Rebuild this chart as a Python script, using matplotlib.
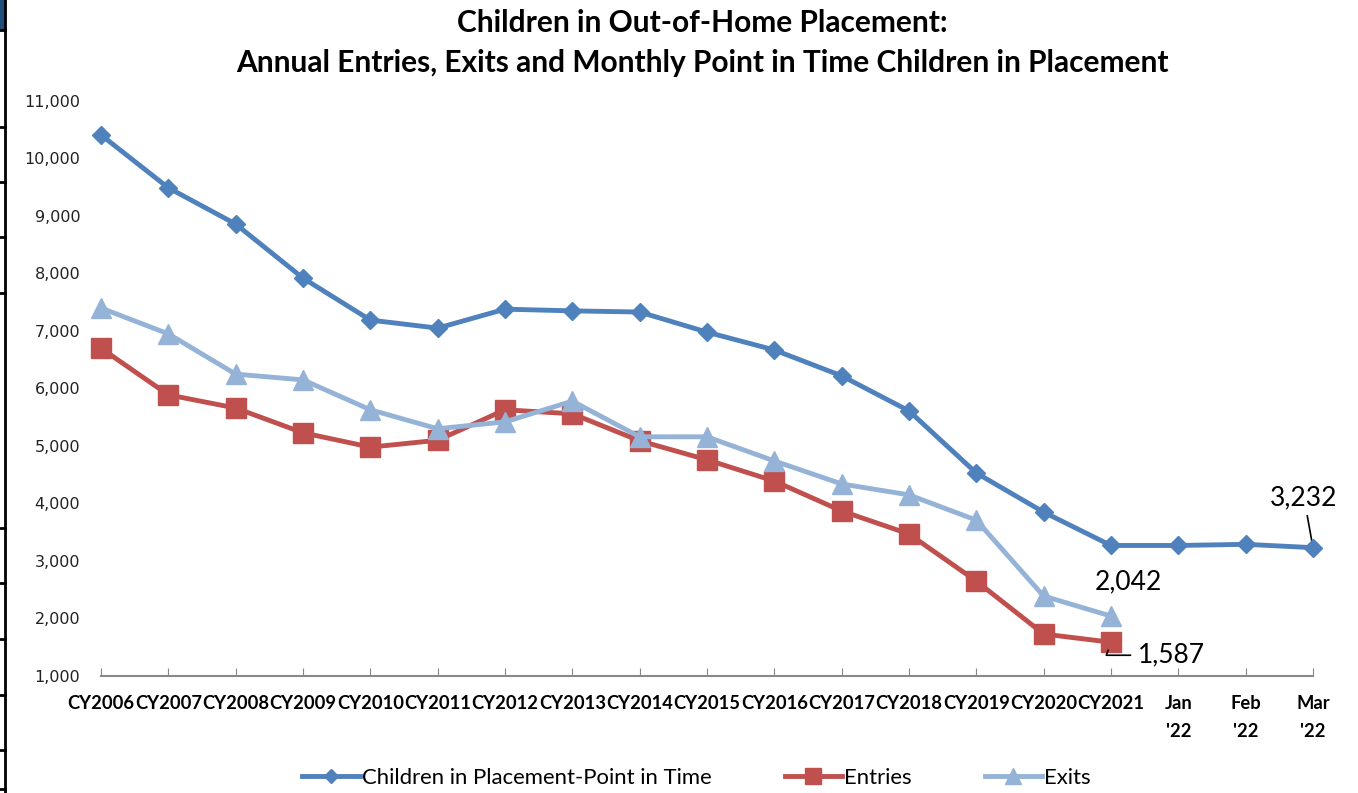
import matplotlib
matplotlib.use("Agg")
import matplotlib.pyplot as plt
from matplotlib.lines import Line2D
from matplotlib.patches import Rectangle

# categories and series
periods = ["CY2006", "CY2007", "CY2008", "CY2009", "CY2010", "CY2011", "CY2012",
           "CY2013", "CY2014", "CY2015", "CY2016", "CY2017", "CY2018", "CY2019",
           "CY2020", "CY2021", "Jan\n'22", "Feb\n'22", "Mar\n'22"]
in_placement = [10410, 9490, 8860, 7920, 7190, 7050, 7380, 7350, 7330, 6980,
                6670, 6220, 5610, 4530, 3850, 3270, 3270, 3290, 3232]
entries = [6700, 5890, 5660, 5230, 4980, 5100, 5630, 5560, 5090, 4760,
           4390, 3870, 3470, 2650, 1730, 1587]
exits = [7400, 6950, 6250, 6150, 5630, 5300, 5420, 5780, 5160, 5160,
         4740, 4340, 4150, 3710, 2390, 2042]
y_ticks = list(range(1000, 11001, 1000))

blue = "#4F81BD"
red = "#C0504D"
light = "#95B3D7"
bold_font = "Lato"

fig = plt.figure(figsize=(13.58, 7.93), dpi=100, facecolor="white")
ax = fig.add_axes([101 / 1358, 1 - 676 / 793, (1313 - 101) / 1358, (676 - 101) / 793])

x_all = list(range(len(periods)))
ax.plot(x_all, in_placement, color=blue, lw=3.5, marker="D", ms=9.5, clip_on=False,
        zorder=4, label="Children in Placement-Point in Time")
ax.plot(x_all[:len(entries)], entries, color=red, lw=3.5, marker="s", ms=14, clip_on=False,
        zorder=3, label="Entries")
ax.plot(x_all[:len(exits)], exits, color=light, lw=3.5, marker="^", ms=14.5, clip_on=False,
        zorder=5, label="Exits")

ax.set_xlim(0, len(periods) - 1)
ax.set_ylim(1000, 11000)
ax.set_yticks(y_ticks)
ax.set_yticklabels([f"{v:,}" for v in y_ticks], fontsize=11.5, color="#222222")
ax.set_xticks(x_all)
ax.set_xticklabels(periods, fontsize=13.2, fontweight="bold", family=bold_font,
                   linespacing=1.75, va="top")
ax.tick_params(axis="y", length=0, pad=15)
ax.tick_params(axis="x", direction="in", length=6, color="#888888", pad=14)
for s in ["top", "right", "left"]:
    ax.spines[s].set_visible(False)
ax.spines["bottom"].set_color("#888888")
ax.spines["bottom"].set_linewidth(1.5)

# data labels
label_font = dict(fontsize=19, family="Lato", color="black", ha="center", va="center")
ax.annotate(f"{in_placement[-1]:,}", xy=(x_all[-1], in_placement[-1]),
            xytext=(-9, 50), textcoords="offset pixels",
            arrowprops=dict(arrowstyle="-", color="black", lw=1.2, shrinkA=2, shrinkB=4),
            **label_font)
ax.annotate(f"{exits[-1]:,}", xy=(len(exits) - 1, exits[-1]),
            xytext=(17, 34), textcoords="offset pixels", **label_font)
ax.annotate(f"{entries[-1]:,}", xy=(len(entries) - 1, entries[-1]),
            xytext=(60, -13), textcoords="offset pixels",
            arrowprops=dict(arrowstyle="-", color="black", lw=1.2, shrinkA=3, shrinkB=6,
                            connectionstyle="angle,angleA=0,angleB=70,rad=0"),
            **label_font)

fig.text(0.517, 0.971, "Children in Out-of-Home Placement:", ha="center", va="center",
         fontsize=21.5, fontweight="bold", family=bold_font)
fig.text(0.517, 0.920, "Annual Entries, Exits and Monthly Point in Time Children in Placement",
         ha="center", va="center", fontsize=21.5, fontweight="bold", family=bold_font)

leg = fig.legend(loc="center", bbox_to_anchor=(0.513, 0.019), ncol=3, frameon=False,
                 handlelength=2.6, columnspacing=3.3, handletextpad=0.1,
                 prop=dict(family="Lato", size=15.9), markerscale=0.8)

# left window border from the original screenshot
fig.add_artist(Rectangle((0, 1 - 30 / 793), 5 / 1358, 30 / 793, transform=fig.transFigure,
                         color="#1F4E79"))
fig.add_artist(Line2D([5 / 1358, 5 / 1358], [0, 1], transform=fig.transFigure,
                      color="black", lw=2))
for yy in [30, 127, 182, 237, 293, 528, 583, 639, 695, 750, 789]:
    fig.add_artist(Line2D([0, 5 / 1358], [1 - yy / 793, 1 - yy / 793],
                          transform=fig.transFigure, color="black", lw=2))

fig.savefig("out.png", dpi=100, facecolor="white")
